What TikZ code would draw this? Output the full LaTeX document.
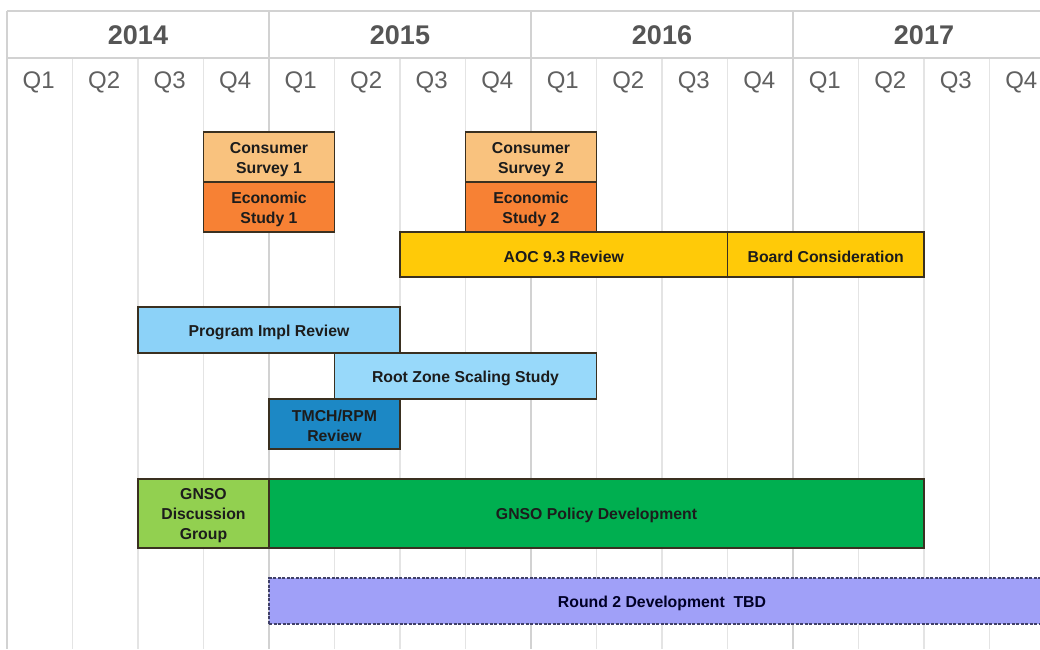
\documentclass[tikz,border=0pt]{standalone}
\usepackage{fontspec}
\setmainfont{Liberation Sans}
\definecolor{gridc}{HTML}{E4E4E4}
\definecolor{yearc}{HTML}{D2D2D2}
\definecolor{hdrtxt}{HTML}{555555}
\definecolor{qtxt}{HTML}{606060}
\definecolor{bordc}{HTML}{3A3020}
\definecolor{cscol}{HTML}{F9C27E}
\definecolor{escol}{HTML}{F78134}
\definecolor{aoccol}{HTML}{FFCA08}
\definecolor{pircol}{HTML}{8CD2F8}
\definecolor{rzcol}{HTML}{98D9FA}
\definecolor{tmcol}{HTML}{1C88C5}
\definecolor{dgcol}{HTML}{92D050}
\definecolor{pdcol}{HTML}{00AF50}
\definecolor{r2col}{HTML}{A0A0F8}
\definecolor{r2bord}{HTML}{40406A}
\definecolor{bartxt}{HTML}{1C1C1C}
\newcommand{\tstrut}{\rule{0pt}{16pt}}
\tikzset{
  bar/.style={draw=bordc, line width=1.1pt, inner sep=0pt, align=center,
    text=bartxt, font=\fontsize{15.8}{20}\selectfont\bfseries},
  yearlbl/.style={text=hdrtxt, font=\fontsize{27}{30}\selectfont\bfseries},
  qlbl/.style={text=qtxt, font=\fontsize{24}{27}\selectfont},
}
\begin{document}
\begin{tikzpicture}[x=1pt,y=-1pt]
\useasboundingbox (0,0) rectangle (1040,649);
\clip (0,0) rectangle (1040,649);
\fill[white] (0,0) rectangle (1040,649);
% quarter grid lines
\foreach \i in {1,2,3,5,6,7,9,10,11,13,14,15}
  \draw[gridc, line width=1.3pt] ({7+65.5*\i},58) -- ({7+65.5*\i},649);
% year lines
\foreach \i in {0,4,8,12}
  \draw[yearc, line width=1.8pt] ({7+65.5*\i},11) -- ({7+65.5*\i},649);
\draw[yearc, line width=1.6pt] (7,11) -- (1040,11);
\draw[yearc, line width=1.6pt] (7,58) -- (1040,58);
% year labels
\foreach \y [count=\k from 0] in {2014,2015,2016,2017}
  \node[yearlbl] (year\y) at ({138+262*\k},35.5) {\y};
% quarter labels
\foreach \i in {0,...,15}{
  \pgfmathtruncatemacro{\q}{mod(\i,4)+1}
  \node[qlbl] (q\i) at ({6+65.5*(\i+0.5)},82.5) {Q\q};
}
% bars
\node[bar, fill=cscol, minimum width=131, minimum height=50] (cs1) at (269,157) {\tstrut Consumer\\Survey 1};
\node[bar, fill=escol, minimum width=131, minimum height=50] (es1) at (269,207) {\tstrut Economic\\Study 1};
\node[bar, fill=cscol, minimum width=131, minimum height=50] (cs2) at (531,157) {\tstrut Consumer\\Survey 2};
\node[bar, fill=escol, minimum width=131, minimum height=50] (es2) at (531,207) {\tstrut Economic\\Study 2};
\node[bar, fill=aoccol, minimum width=327.5, minimum height=45] (aoc) at (563.75,254.5) {\tstrut AOC 9.3 Review};
\node[bar, fill=aoccol, minimum width=196.5, minimum height=45] (board) at (825.75,254.5) {\tstrut Board Consideration};
\node[bar, fill=pircol, minimum width=262, minimum height=46] (pir) at (269,330) {\tstrut Program Impl Review};
\node[bar, fill=rzcol, minimum width=262, minimum height=46] (rzs) at (465.5,376) {\tstrut Root Zone Scaling Study};
\node[bar, fill=tmcol, minimum width=131, minimum height=50] (tmch) at (334.5,424) {\tstrut TMCH/RPM\\Review};
\node[bar, fill=dgcol, minimum width=131, minimum height=69] (gdg) at (203.5,513.5) {\tstrut GNSO\\Discussion\\Group};
\node[bar, fill=pdcol, minimum width=655, minimum height=69] (gpd) at (596.5,513.5) {\tstrut GNSO Policy Development};
\node[bar, fill=r2col, draw=r2bord, dash pattern=on 3pt off 1.5pt, text=black!85!blue, minimum width=786, minimum height=46] (r2) at (662,601) {\tstrut Round 2 Development\ \ TBD};
\end{tikzpicture}
\end{document}
